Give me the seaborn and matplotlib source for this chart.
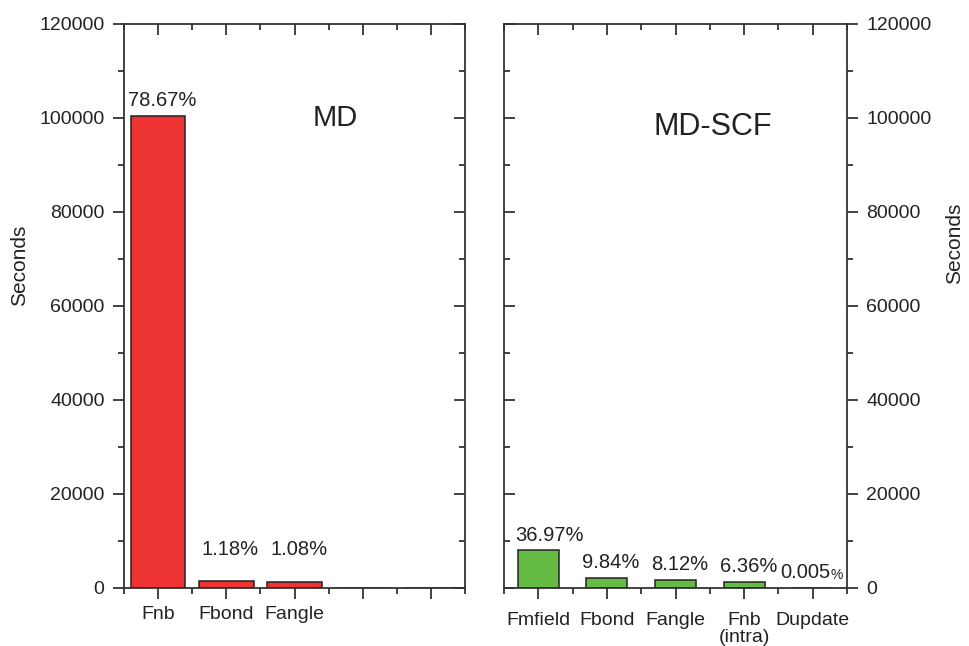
import numpy as np
import pandas as pd
import matplotlib
matplotlib.use("Agg")
import matplotlib.pyplot as plt
from matplotlib.ticker import MultipleLocator
import seaborn as sns

# Data
md_tasks = ["Fnb", "Fbond", "Fangle", "", ""]
md_seconds = [100500, 1510, 1380, 0, 0]
md_share = ["78.67%", "1.18%", "1.08%", None, None]

scf_tasks = ["Fmfield", "Fbond", "Fangle", "Fnb\n(intra)", "Dupdate"]
scf_seconds = [8000, 2130, 1760, 1380, 1]
scf_share = ["36.97%", "9.84%", "8.12%", "6.36%", "0.005"]

sns.set_theme(style="white")
plt.rcParams['font.family'] = ['Liberation Sans', 'DejaVu Sans']

SPINE = "#333333"
TXT = "#222222"
TICK_FS = 14
PCT_FS = 14.5

fig = plt.figure(figsize=(9.69, 6.46), dpi=100)
W, H = 969, 646
ax1 = fig.add_axes([124 / W, (H - 588) / H, 341 / W, (588 - 24) / H])
ax2 = fig.add_axes([504 / W, (H - 588) / H, 343 / W, (588 - 24) / H])


def style_axis(ax, label_side):
    for s in ax.spines.values():
        s.set_color(SPINE)
        s.set_linewidth(1.3)
    ax.set_xlim(-0.5, 4.5)
    ax.set_ylim(0, 120000)
    ax.yaxis.set_major_locator(MultipleLocator(20000))
    ax.yaxis.set_minor_locator(MultipleLocator(10000))
    ax.set_xticks(np.arange(5))
    ax.set_xticks(np.arange(-0.5, 5, 1), minor=True)
    ax.tick_params(axis="both", which="major", length=8, width=1.3, color=SPINE,
                   labelsize=TICK_FS, labelcolor=TXT)
    ax.tick_params(axis="both", which="minor", length=4.5, width=1.3, color=SPINE)
    ax.tick_params(axis="x", which="both", direction="out", bottom=True)
    ax.tick_params(axis="y", which="major", pad=6)
    ax.set_xlabel("")
    if label_side == "left":
        ax.tick_params(axis="y", which="both", direction="out", left=True, labelleft=True)
    else:
        ax.yaxis.tick_right()
        ax.yaxis.set_label_position("right")
    ax.set_ylabel("Seconds", fontsize=15, color=TXT)


def inward_ticks(ax, side):
    # secondary axes to draw inward ticks on the opposite spine and top
    top = ax.secondary_xaxis("top")
    top.set_xticks(np.arange(5))
    top.set_xticks(np.arange(-0.5, 5, 1), minor=True)
    top.tick_params(which="major", direction="in", length=8, width=1.3, color=SPINE, labeltop=False)
    top.tick_params(which="minor", direction="in", length=4.5, width=1.3, color=SPINE)
    top.spines["top"].set_visible(False)
    sec = ax.secondary_yaxis(side)
    sec.yaxis.set_major_locator(MultipleLocator(20000))
    sec.yaxis.set_minor_locator(MultipleLocator(10000))
    sec.tick_params(which="major", direction="in", length=8, width=1.3, color=SPINE)
    sec.tick_params(which="minor", direction="in", length=4.5, width=1.3, color=SPINE)
    sec.set_yticklabels([])
    sec.spines[side].set_visible(False)


# ---- MD panel ----
md_df = pd.DataFrame({"task": [f"t{i}" for i in range(5)], "sec": md_seconds})
sns.barplot(data=md_df, x="task", y="sec", ax=ax1, color="#EE3333",
            edgecolor="#222222", linewidth=1.1, width=0.8, saturation=1)
style_axis(ax1, "left")
ax1.set_xticks(np.arange(5))
ax1.set_xticklabels(md_tasks)
ax1.tick_params(axis="x", which="major", pad=5)
ax1.tick_params(axis="y", which="both", right=False)
ax1.yaxis.set_label_coords(-0.279, 0.573)
inward_ticks(ax1, "right")
pads = [4, 16, 16]
for i, (v, lab) in enumerate(zip(md_seconds, md_share)):
    if lab is None:
        continue
    ax1.annotate(lab, (i, v), xytext=(3, pads[i]), textcoords="offset points",
                 ha="center", va="bottom", fontsize=PCT_FS, color=TXT)
ax1.text(0.62, 0.833, "MD", transform=ax1.transAxes, fontsize=21, color=TXT,
         ha="center", va="center")

# ---- MD-SCF panel ----
scf_df = pd.DataFrame({"task": [f"s{i}" for i in range(5)], "sec": scf_seconds})
sns.barplot(data=scf_df, x="task", y="sec", ax=ax2, color="#66BB44",
            edgecolor="#222222", linewidth=1.1, width=0.6, saturation=1)
style_axis(ax2, "right")
ax2.set_xticks(np.arange(5))
ax2.set_xticklabels(scf_tasks, linespacing=1.0)
ax2.tick_params(axis="x", which="major", pad=9)
ax2.tick_params(axis="y", which="both", left=False, right=True, direction="out")
ax2.yaxis.set_label_coords(1.285, 0.612)
inward_ticks(ax2, "left")
for i, (v, lab) in enumerate(zip(scf_seconds, scf_share)):
    if i == 4:
        ax2.annotate(lab, (i, v), xytext=(13, 4), textcoords="offset points",
                     ha="right", va="bottom", fontsize=PCT_FS, color=TXT)
        ax2.annotate("%", (i, v), xytext=(13, 4), textcoords="offset points",
                     ha="left", va="bottom", fontsize=10, color=TXT)
    else:
        dx = 8 if i == 0 else 3
        ax2.annotate(lab, (i, v), xytext=(dx, 4), textcoords="offset points",
                     ha="center", va="bottom", fontsize=PCT_FS, color=TXT)
ax2.text(0.61, 0.817, "MD-SCF", transform=ax2.transAxes, fontsize=22, color=TXT,
         ha="center", va="center")

fig.savefig("out.png", dpi=100)
